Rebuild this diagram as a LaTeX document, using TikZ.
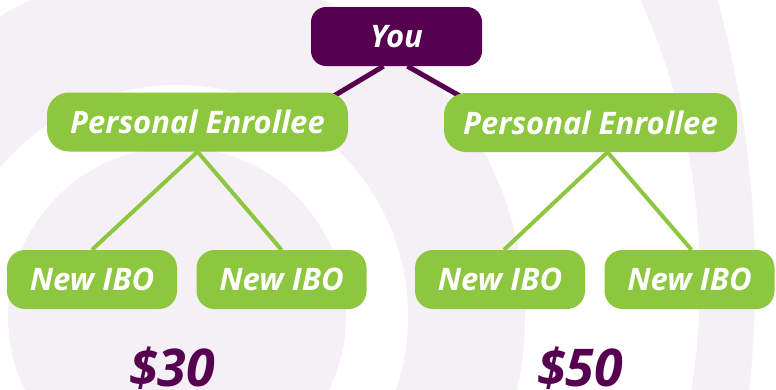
\documentclass[tikz,border=0pt]{standalone}
\usepackage{fontspec}
\setmainfont{Open Sans}
\usepackage{xcolor}
\usepackage{tikz}
\usetikzlibrary{positioning,backgrounds}

\definecolor{plum}{HTML}{560050}
\definecolor{leaf}{HTML}{8DC63F}
\definecolor{mist}{HTML}{F5F0F5}

\tikzset{
  youbox/.style={fill=plum, text=white, rounded corners=15pt,
    minimum width=171pt, minimum height=59pt, inner sep=0pt,
    font=\fontsize{31}{31}\selectfont\bfseries\itshape},
  enrolbox/.style={fill=leaf, text=white, rounded corners=22pt,
    minimum width=297pt, minimum height=59pt, inner sep=0pt,
    font=\fontsize{31}{31}\selectfont\bfseries\itshape},
  ibobox/.style={fill=leaf, text=white, rounded corners=18pt,
    minimum width=170pt, minimum height=59pt, inner sep=0pt,
    font=\fontsize{31}{31}\selectfont\bfseries\itshape},
  payout/.style={text=plum, anchor=base, inner sep=0pt,
    font=\fontsize{52}{52}\selectfont\bfseries\itshape},
  upline/.style={draw=plum, line width=5pt},
  downline/.style={draw=leaf, line width=4pt}
}

\begin{document}
\begin{tikzpicture}[x=1pt,y=-1pt]
    \useasboundingbox (0,0) rectangle (776,389);
    \clip (0,0) rectangle (776,389);

    \begin{scope}[on background layer]
        \fill[mist] (177,316) circle[radius=348pt];
        \fill[white] (177,316) circle[radius=231pt];
        \fill[mist] (177,316) circle[radius=169pt];
        \fill[mist, even odd rule] (-304,280) circle[radius=1059pt]
            (12,280) circle[radius=688pt];
    \end{scope}

    \node[youbox] (you) at (396.5, 36.5) {You};

    \node[enrolbox, minimum width=301pt] (pe1) at (197.5, 122) {Personal Enrollee};
    \node[enrolbox, minimum width=293pt] (pe2) at (590.5, 122.5) {Personal Enrollee};

    \node[ibobox] (ibo1) at (92, 279.5) {New IBO};
    \node[ibobox] (ibo2) at (281.5, 279.5) {New IBO};
    \node[ibobox] (ibo3) at (500, 279.5) {New IBO};
    \node[ibobox] (ibo4) at (689.5, 279.5) {New IBO};

    \node[payout] (pay1) at (172, 386) {\$30};
    \node[payout] (pay2) at (580, 386) {\$50};

    \begin{scope}[on background layer]
        \draw[upline] ([xshift=-13pt]you.south) -- ([xshift=-25pt,yshift=-10pt]pe1.north east);
        \draw[upline] ([xshift=11pt]you.south) -- ([xshift=28pt,yshift=-10pt]pe2.north west);
        \draw[downline] (pe1.south) -- (ibo1.north);
        \draw[downline] (pe1.south) -- (ibo2.north);
        \draw[downline] ([xshift=17pt]pe2.south) -- ([xshift=4pt]ibo3.north);
        \draw[downline] ([xshift=17pt]pe2.south) -- ([xshift=2pt]ibo4.north);
    \end{scope}
\end{tikzpicture}
\end{document}
